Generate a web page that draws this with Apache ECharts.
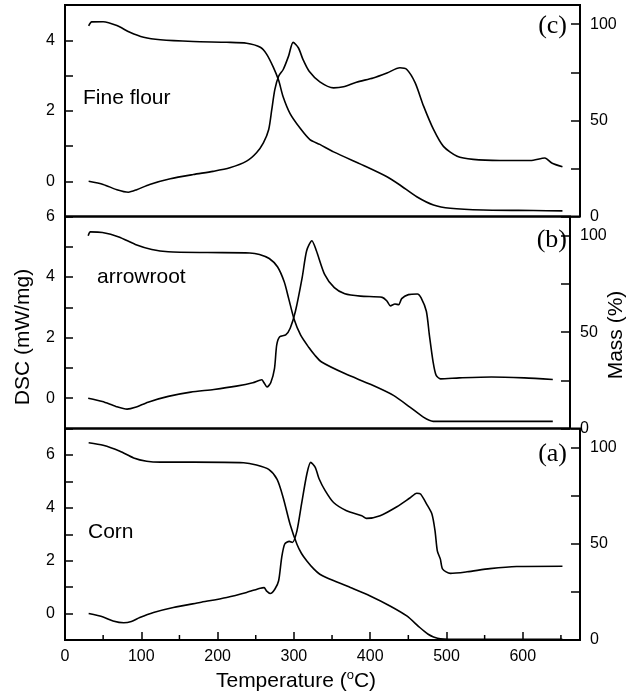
<!DOCTYPE html>
<html>
<head>
<meta charset="utf-8">
<script src="https://cdn.jsdelivr.net/npm/echarts@6/dist/echarts.min.js"></script>
<style>
  html, body { margin: 0; padding: 0; background: #fff; }
  #chart { width: 635px; height: 700px; }
</style>
</head>
<body>
<div id="chart"></div>
<script>
// Tick labels shown on each axis
const tempLabels = [0, 100, 200, 300, 400, 500, 600];
const tempMinorTicks = [50, 150, 250, 350, 450, 550, 650];
const dscLabels = [0, 2, 4, 6];
const massLabels = [0, 50, 100];

// Panel captions (top to bottom)
const sampleNames = ['Fine flour', 'arrowroot', 'Corn'];
const panelTags = ['(c)', '(b)', '(a)'];

// (c) Fine flour: [temperature °C, DSC mW/mg]
const flourDsc = [[31,0],[50,-0.09],[68,-0.24],[83,-0.31],[94,-0.24],[111,-0.09],[138,0.07],[168,0.19],[194,0.28],[216,0.38],[238,0.57],[251,0.81],[260,1.09],[267,1.47],[271,2.03],[275,2.6],[280,2.98],[286,3.17],[293,3.55],[299,3.94],[306,3.78],[312,3.45],[320,3.12],[334,2.82],[352,2.65],[365,2.68],[382,2.81],[404,2.93],[422,3.07],[439,3.22],[448,3.17],[459,2.79],[470,2.13],[483,1.47],[496,0.99],[514,0.71],[535,0.62],[570,0.59],[610,0.59],[629,0.66],[638,0.52],[652,0.41]];
// (c) Fine flour: [temperature °C, mass %]
const flourMass = [[31,99.2],[35,101.2],[50,101.3],[68,99.3],[85,95.8],[103,93.2],[125,91.9],[168,91],[212,90.6],[238,90.1],[256,88],[264,84.6],[273,77.7],[280,70.8],[286,62.1],[295,53.5],[308,46],[321,40],[334,37.5],[352,33.6],[395,25.9],[422,20.7],[439,16.4],[461,10.3],[483,6],[505,4.3],[548,3.4],[614,3.1],[652,2.9]];

// (b) arrowroot
const arrowrootDsc = [[31,0],[50,-0.11],[68,-0.27],[83,-0.36],[94,-0.3],[111,-0.13],[138,0.06],[168,0.2],[199,0.29],[229,0.4],[251,0.51],[263,0.61],[266,0.51],[270,0.37],[275,0.51],[280,0.98],[283,1.76],[287,2.03],[295,2.09],[301,2.31],[308,2.87],[317,3.98],[323,4.87],[330,5.2],[336,4.87],[347,4.09],[360,3.65],[374,3.45],[395,3.37],[424,3.33],[430,3.22],[435,3.05],[441,3.11],[446,3.09],[450,3.29],[459,3.42],[471,3.44],[476,3.31],[483,2.87],[487,2.09],[492,1.2],[496,0.76],[502,0.64],[527,0.67],[570,0.7],[614,0.67],[652,0.62]];
const arrowrootMass = [[31,100],[34,102],[50,101.7],[72,99.4],[94,95.5],[116,92.9],[138,91.7],[190,91.3],[247,91.1],[260,90.3],[273,88.2],[284,83.9],[293,76.1],[299,67.4],[306,57],[315,48.4],[326,42],[334,38],[343,34.5],[374,28.5],[409,22.8],[439,17.2],[461,11.1],[479,5.9],[492,3.7],[527,3.7],[652,3.7]];

// (a) Corn
const cornDsc = [[31,0],[50,-0.13],[63,-0.28],[77,-0.35],[87,-0.3],[98,-0.15],[116,0.04],[142,0.23],[177,0.42],[212,0.61],[238,0.8],[256,0.96],[261,0.98],[264,0.86],[269,0.76],[275,0.92],[280,1.24],[284,2.12],[288,2.63],[294,2.73],[298,2.69],[304,3.13],[310,4.14],[317,5.28],[322,5.72],[328,5.53],[333,5.1],[341,4.65],[352,4.2],[369,3.89],[389,3.7],[395,3.6],[413,3.7],[435,4.04],[452,4.37],[461,4.55],[466,4.52],[474,4.14],[481,3.76],[485,3.13],[488,2.37],[492,2.06],[495,1.68],[505,1.52],[527,1.58],[557,1.7],[592,1.78],[652,1.79]];
const cornMass = [[31,102.6],[50,101.3],[72,98.2],[90,94.7],[107,93],[125,92.5],[168,92.5],[234,92.2],[251,91],[267,88.7],[278,83.5],[286,74],[295,60.2],[304,49.8],[310,45],[317,41.1],[326,37],[334,34.2],[343,32.4],[374,27.3],[400,22.9],[426,17.7],[448,12.5],[465,6.5],[476,3],[483,1.6],[492,0.6],[520,0.3],[652,0.3]];

const dscSets = [flourDsc, arrowrootDsc, cornDsc];
const massSets = [flourMass, arrowrootMass, cornMass];
const dscMax = [5, 6, 7];

const FONT = 'Liberation Sans, Arial, sans-serif';
const SERIF = 'Liberation Serif, Times New Roman, serif';

const chart = echarts.init(document.getElementById('chart'), null, { renderer: 'canvas' });

const panelTop = [5, 216.5, 428.5];
const panelHeight = [211.5, 212, 211.5];

const grid = panelTop.map((t, i) => ({
  left: 65, right: 55, top: t, height: panelHeight[i],
  show: true, borderColor: '#000', borderWidth: 2, backgroundColor: 'transparent'
}));

const labelStyle = () => ({ color: '#000', fontFamily: FONT, fontSize: 16 });
const tickLine = () => ({ color: '#000', width: 1.5 });
const titleStyle = () => ({ color: '#000', fontFamily: FONT, fontSize: 21, fontWeight: 'normal', lineHeight: 22 });

// y axes: DSC on the left (even indices), mass on the right (odd indices)
const yAxis = [];
[0, 1, 2].forEach(i => {
  const dsc = {
    type: 'value', gridIndex: i, position: 'left', min: -1, max: dscMax[i], interval: 1,
    axisLine: { show: false, onZero: false }, splitLine: { show: false },
    axisTick: { show: true, inside: true, length: 8, lineStyle: tickLine() },
    axisLabel: Object.assign({
      margin: 10,
      formatter: v => dscLabels.includes(v) ? String(v) : ''
    }, labelStyle())
  };
  const mass = {
    type: 'value', gridIndex: i, position: 'right', min: 0, max: 110, interval: 25,
    axisLine: { show: false, onZero: false }, splitLine: { show: false },
    axisTick: { show: true, inside: true, length: 9, lineStyle: tickLine() },
    axisLabel: Object.assign({
      margin: 10,
      formatter: v => massLabels.includes(v) ? String(v) : ''
    }, labelStyle())
  };
  if (i === 1) {
    dsc.name = 'DSC (mW/mg)';
    dsc.nameLocation = 'middle';
    dsc.nameRotate = 90;
    dsc.nameGap = 31;
    dsc.nameMoveOverlap = false;
    dsc.nameTextStyle = Object.assign(titleStyle(), { padding: [0, 29, 0, 0] });
    mass.name = 'Mass (%)';
    mass.nameLocation = 'middle';
    mass.nameRotate = 90;
    mass.nameGap = 35;
    mass.nameMoveOverlap = false;
    mass.nameTextStyle = Object.assign(titleStyle(), { padding: [0, 25, 0, 0] });
  }
  yAxis.push(dsc, mass);
});

// temperature axes; only the bottom panel carries ticks, labels and the title
const xAxis = [0, 1, 2].map(i => {
  const ax = {
    type: 'value', gridIndex: i, position: 'bottom', min: 0, max: 675, interval: 100,
    axisLine: { show: false, onZero: false },
    splitLine: { show: false },
    axisTick: { show: i === 2, inside: true, length: 8, lineStyle: { color: '#000', width: 1.5 } },
    axisLabel: Object.assign({
      show: i === 2, margin: 9,
      formatter: v => tempLabels.includes(v) ? String(v) : ''
    }, labelStyle())
  };
  if (i === 2) {
    ax.name = 'Temperature ({sup|o}C)';
    ax.nameLocation = 'middle';
    ax.nameGap = 29;
    ax.nameMoveOverlap = false;
    ax.nameTextStyle = Object.assign(titleStyle(), {
      lineHeight: 24,
      padding: [0, 53, 0, 0],
      rich: { sup: { fontSize: 13, fontFamily: FONT, color: '#000', verticalAlign: 'top', lineHeight: 24 } }
    });
  }
  return ax;
});

const lineStyle = { color: '#000', width: 1.6 };
const series = [];
[0, 1, 2].forEach(i => {
  series.push({
    type: 'line', xAxisIndex: i, yAxisIndex: i * 2, data: dscSets[i],
    showSymbol: false, smooth: 0.25, lineStyle, silent: true
  });
  series.push({
    type: 'line', xAxisIndex: i, yAxisIndex: i * 2 + 1, data: massSets[i],
    showSymbol: false, smooth: 0.25, lineStyle, silent: true
  });
});

// short inward temperature ticks at the 50 °C midpoints of the bottom edge
series.push({
  type: 'custom', xAxisIndex: 2, yAxisIndex: 5, silent: true, clip: false, z: 10,
  data: tempMinorTicks.map(v => [v, 0]),
  renderItem: (params, api) => {
    const p = api.coord([api.value(0), api.value(1)]);
    return {
      type: 'line',
      shape: { x1: p[0], y1: p[1], x2: p[0], y2: p[1] - 5 },
      style: { stroke: '#000', lineWidth: 1.5 }
    };
  }
});

// sample names and panel letters
const nameX = [83, 97, 88];
const nameY = [98, 277, 532];
const tagY = [26.5, 240, 454];
const title = [];
sampleNames.forEach((n, i) => {
  title.push({
    text: n, left: nameX[i], top: nameY[i] - 12, padding: 0,
    textStyle: { color: '#000', fontFamily: FONT, fontSize: 21, fontWeight: 'normal', lineHeight: 24 }
  });
});
panelTags.forEach((t, i) => {
  title.push({
    text: t, right: 68, top: tagY[i] - 15, padding: 0,
    textStyle: { color: '#000', fontFamily: SERIF, fontSize: 26, fontWeight: 'normal', lineHeight: 30 }
  });
});

chart.setOption({
  animation: false,
  backgroundColor: '#fff',
  title, grid, xAxis, yAxis, series
});
</script>
</body>
</html>
